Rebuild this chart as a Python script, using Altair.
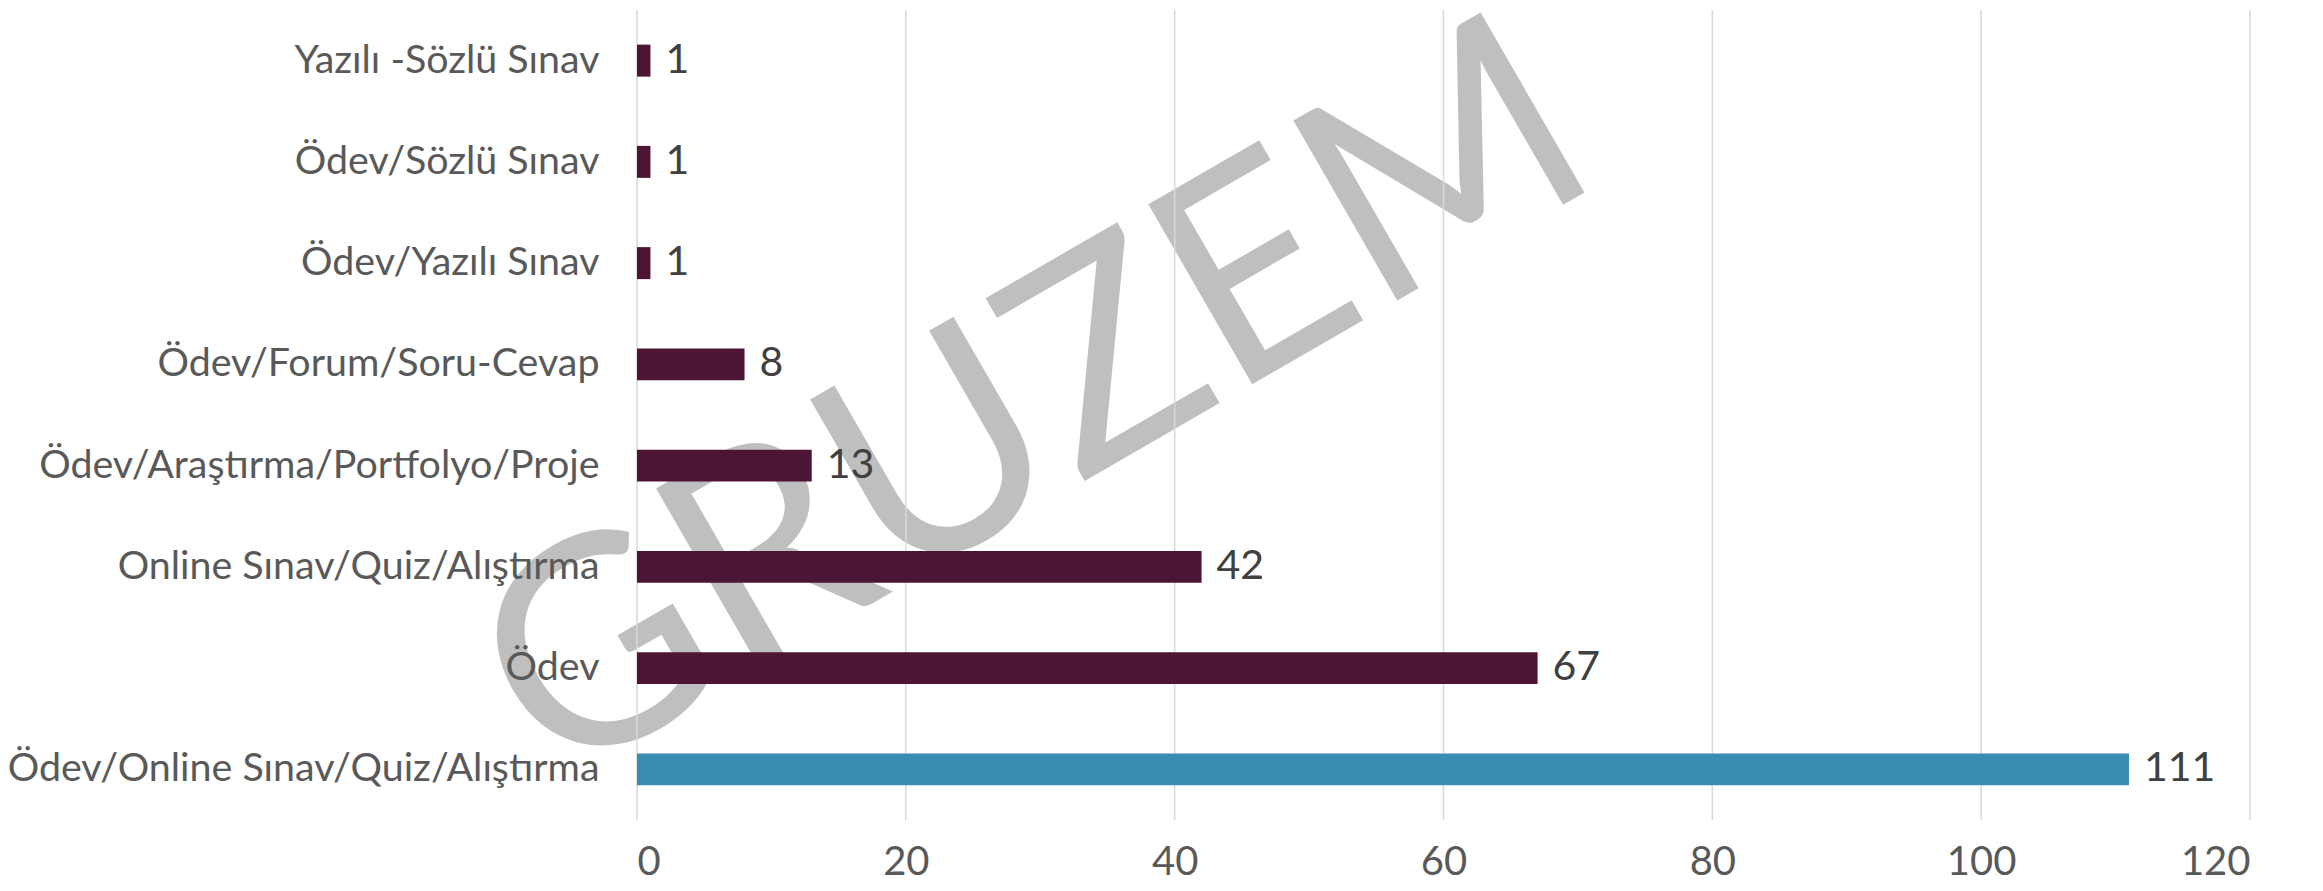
import altair as alt
import pandas as pd

categories = [
    "Yazılı -Sözlü Sınav",
    "Ödev/Sözlü Sınav",
    "Ödev/Yazılı Sınav",
    "Ödev/Forum/Soru-Cevap",
    "Ödev/Araştırma/Portfolyo/Proje",
    "Online Sınav/Quiz/Alıştırma",
    "Ödev",
    "Ödev/Online Sınav/Quiz/Alıştırma",
]
values = [1, 1, 1, 8, 13, 42, 67, 111]
highlight = [False, False, False, False, False, False, False, True]
tick_values = [0, 20, 40, 60, 80, 100, 120]
watermark = ["GRUZEM"]

FONT = "Lato"
W, H = 1613, 810

df = pd.DataFrame({"cat": categories, "val": values, "hl": highlight})
grid_df = pd.DataFrame({"v": tick_values})
wm_df = pd.DataFrame({"t": watermark})

xscale = alt.Scale(domain=[0, 120], nice=False, zero=True)
yscale = alt.Scale(domain=categories, paddingInner=0.684, paddingOuter=0.342)

xaxis = alt.Axis(values=tick_values, grid=False, domain=False, ticks=False,
                 labelFont=FONT, labelFontSize=40, labelColor="#595959",
                 labelPadding=22)

wm = alt.Chart(wm_df).mark_text(
    angle=330, fontSize=290, color="#bfbfbf", font=FONT,
    align="center", baseline="middle",
).encode(x=alt.value(400), y=alt.value(398), text="t:N")

grid = alt.Chart(grid_df).mark_rule(color="#d9d9d9", strokeWidth=1.5).encode(
    x=alt.X("v:Q", scale=xscale, title=None, axis=xaxis)
)

bars = alt.Chart(df).mark_bar().encode(
    x=alt.X("val:Q", scale=xscale, title=None, axis=xaxis),
    y=alt.Y("cat:N", scale=yscale, sort=None, title=None,
            axis=alt.Axis(domain=False, ticks=False, labelFont=FONT, labelFontSize=39.4,
                          labelColor="#595959", labelPadding=38, labelLimit=0, zindex=1)),
    color=alt.Color("hl:N", scale=alt.Scale(domain=[False, True], range=["#4d1535", "#3a8cb1"]),
                    legend=None),
)

labels = alt.Chart(df).mark_text(
    align="left", baseline="middle", dx=15, fontSize=41, color="#404040", font=FONT
).encode(
    x=alt.X("val:Q", scale=xscale, title=None, axis=xaxis),
    y=alt.Y("cat:N", scale=yscale, sort=None),
    text="val:Q",
)

chart = alt.layer(wm, grid, bars, labels).properties(
    width=W, height=H,
    autosize=alt.AutoSizeParams(type="none"),
    padding={"left": 629, "top": 2, "right": 60, "bottom": 63},
    background="white",
).configure_view(stroke=None)

chart.save("out.html", embed_options={"renderer": "svg", "actions": False})
